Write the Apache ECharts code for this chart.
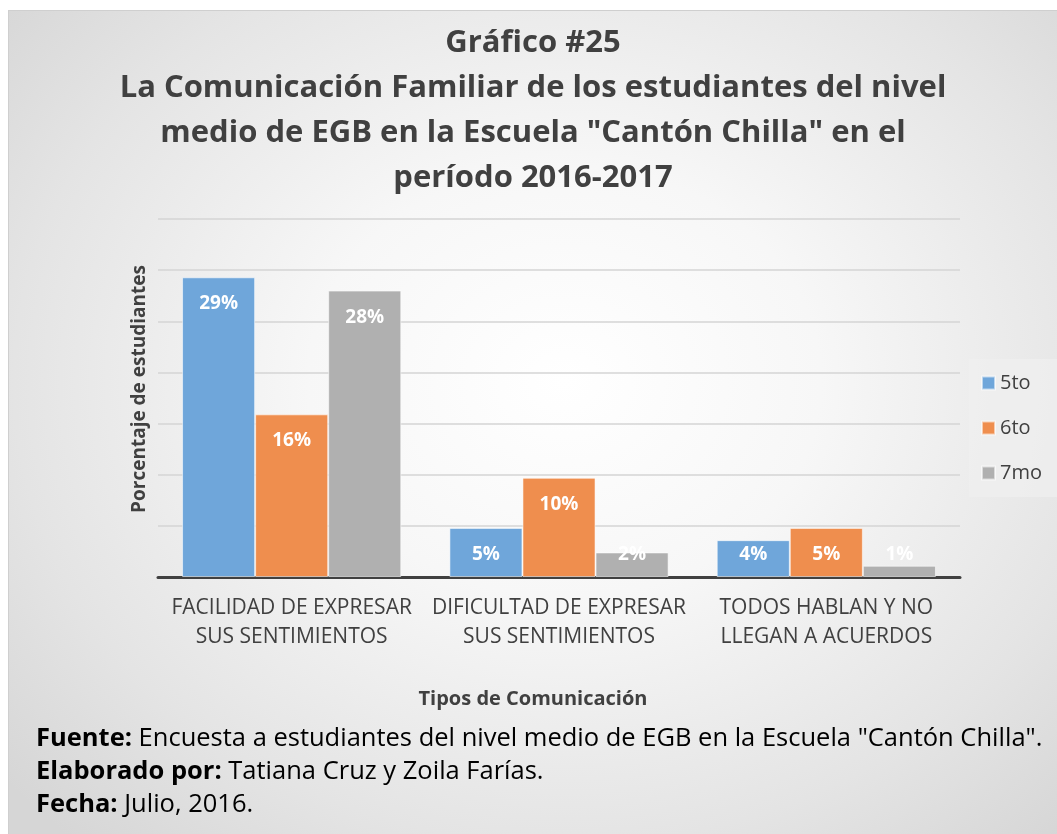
<!DOCTYPE html>
<html>
<head>
<meta charset="utf-8">
<script src="https://cdn.jsdelivr.net/npm/echarts@6/dist/echarts.min.js"></script>
<style>
  html, body { margin: 0; padding: 0; background: #ffffff; }
  #chart {
    position: absolute; left: 8px; top: 10px; width: 1049px; height: 824px;
    box-sizing: border-box; border-top: 1px solid #cfcfcf; border-left: 1px solid #cfcfcf;
    background: radial-gradient(ellipse 70% 75% at 53% 45%, #ffffff 0%, #f7f7f7 35%, #e4e4e4 75%, #d6d6d6 100%);
  }
</style>
</head>
<body>
<div id="chart"></div>
<script>
var categories = [
  'FACILIDAD DE EXPRESAR\nSUS SENTIMIENTOS',
  'DIFICULTAD DE EXPRESAR\nSUS SENTIMIENTOS',
  'TODOS HABLAN Y NO\nLLEGAN A ACUERDOS'
];
var seriesNames = ['5to', '6to', '7mo'];
var values5to = [29.3, 4.8, 3.6];
var values6to = [15.9, 9.7, 4.8];
var values7mo = [28.0, 2.4, 1.1];
var colors = ['#6FA6DA', '#EF8E4E', '#B0B0B0'];

var FONT = 'Open Sans';
var chart = echarts.init(document.getElementById('chart'), null, { renderer: 'canvas' });

// etiquetas: dentro arriba, salvo barras cortas
function buildData(vals) {
  return vals.map(function (v) {
    if (v < 6) {
      return { value: v, label: { position: 'insideBottom', distance: 13 } };
    }
    return v;
  });
}

function makeSeries(name, vals, i) {
  return {
    name: name,
    type: 'bar',
    data: buildData(vals),
    barGap: '0%',
    barCategoryGap: '18%',
    itemStyle: { color: colors[i], borderColor: 'rgba(255,255,255,0.55)', borderWidth: 1 },
    label: {
      show: true,
      position: 'insideTop',
      distance: 17,
      formatter: function (p) { return Math.round(p.value) + '%'; },
      color: '#ffffff',
      fontFamily: FONT,
      fontWeight: 'bold',
      fontSize: 19
    }
  };
}

function footLine(top, bold, rest) {
  return {
    type: 'text',
    left: 27,
    top: top,
    style: {
      text: '{b|' + bold + '}' + rest,
      fontFamily: FONT,
      fontSize: 25.5,
      fill: '#000000',
      rich: { b: { fontFamily: FONT, fontWeight: 'bold', fontSize: 25.5, fill: '#000000' } }
    }
  };
}

var option = {
  backgroundColor: 'transparent',
  animation: false,
  title: {
    text: 'Gráfico #25\nLa Comunicación Familiar de los estudiantes del nivel\nmedio de EGB en la Escuela "Cantón Chilla" en el\nperíodo 2016-2017',
    left: 'center',
    top: 5,
    textStyle: {
      fontFamily: FONT,
      fontWeight: 'bold',
      fontSize: 31,
      lineHeight: 45,
      color: '#404040'
    }
  },
  legend: {
    orient: 'vertical',
    left: 960,
    top: 348,
    itemWidth: 13,
    itemHeight: 13,
    itemGap: 25,
    padding: [14, 20, 14, 12],
    backgroundColor: 'rgba(240,240,240,0.7)',
    icon: 'rect',
    textStyle: { fontFamily: FONT, fontSize: 20, color: '#404040' },
    data: seriesNames
  },
  grid: { left: 149, right: 97, top: 208, bottom: 257, containLabel: false },
  xAxis: {
    type: 'category',
    data: categories,
    axisLine: { lineStyle: { color: '#404040', width: 3 } },
    axisTick: { show: false },
    axisLabel: {
      fontFamily: FONT,
      fontSize: 21,
      lineHeight: 29,
      color: '#404040',
      margin: 17,
      interval: 0
    }
  },
  yAxis: {
    type: 'value',
    min: 0,
    max: 35,
    interval: 5,
    name: 'Porcentaje de estudiantes',
    nameLocation: 'middle',
    nameGap: 9,
    nameTextStyle: { fontFamily: FONT, fontWeight: 'bold', fontSize: 19, color: '#404040', padding: [0, 0, 0, 18] },
    axisLabel: { show: false },
    axisLine: { show: false },
    axisTick: { show: false },
    splitLine: { lineStyle: { color: '#d4d4d4', width: 1.5 } }
  },
  graphic: [
    {
      type: 'text',
      left: 'center',
      top: 678,
      style: {
        text: 'Tipos de Comunicación',
        fontFamily: FONT,
        fontWeight: 'bold',
        fontSize: 20,
        fill: '#404040'
      }
    },
    footLine(715, 'Fuente:', ' Encuesta a estudiantes del nivel medio de EGB en la Escuela "Cantón Chilla".'),
    footLine(748, 'Elaborado por:', ' Tatiana Cruz y Zoila Farías.'),
    footLine(781, 'Fecha:', ' Julio, 2016.')
  ],
  series: [
    makeSeries(seriesNames[0], values5to, 0),
    makeSeries(seriesNames[1], values6to, 1),
    makeSeries(seriesNames[2], values7mo, 2)
  ]
};

chart.setOption(option);
</script>
</body>
</html>
